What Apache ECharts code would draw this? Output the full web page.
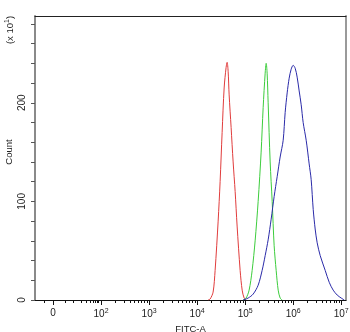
<!DOCTYPE html>
<html>
<head>
<meta charset="utf-8">
<script src="https://cdn.jsdelivr.net/npm/echarts@6/dist/echarts.min.js"></script>
<style>
  html, body { margin: 0; padding: 0; background: #fff; }
  #chart { width: 350px; height: 332px; }
</style>
</head>
<body>
<div id="chart"></div>
<script>
// x values are positions on the biexponential FITC-A axis, in decades (10^n sits at n, 0 sits at 1)
var redX = [4.229, 4.271, 4.333, 4.375, 4.438, 4.479, 4.521, 4.563, 4.604, 4.625, 4.646, 4.667, 4.708, 4.75, 4.792, 4.833, 4.896, 4.938, 4.979, 5.02];
var redY = [0, 1, 8, 30, 80, 120, 170, 215, 236, 241, 232, 208, 175, 140, 110, 75, 30, 10, 2, 0];

var greenX = [4.958, 5.02, 5.083, 5.146, 5.208, 5.271, 5.333, 5.375, 5.417, 5.438, 5.458, 5.479, 5.521, 5.563, 5.604, 5.646, 5.688, 5.729, 5.771];
var greenY = [0, 2, 10, 30, 60, 100, 150, 195, 230, 240, 230, 200, 140, 100, 55, 30, 10, 2, 0];

var blueX = [4.958, 5.063, 5.167, 5.271, 5.354, 5.417, 5.479, 5.542, 5.604, 5.667, 5.729, 5.792, 5.833, 5.875, 5.917, 5.958, 6.0, 6.042, 6.083, 6.125, 6.167, 6.208, 6.271, 6.333, 6.375, 6.417, 6.458, 6.5, 6.563, 6.667, 6.75, 6.833, 6.917, 7.0, 7.063];
var blueY = [0, 2, 6, 15, 30, 45, 61, 82, 105, 125, 145, 162, 190, 210, 225, 234, 238, 235, 226, 212, 198, 180, 162, 138, 122, 92, 72, 58, 45, 30, 18, 10, 5, 2, 0];

var xLabelValues = [1, 2, 3, 4, 5, 6, 7];
var xMinorTicks = [0.8125, 1.25, 1.417, 1.583, 1.688, 1.771, 1.833, 1.875, 1.917, 1.948];
var yTickValues = [0, 20, 40, 60, 80, 100, 120, 140, 160, 180, 200, 220, 240, 260, 280];
var yLabelValues = [0, 100, 200];

for (var n = 2; n < 7; n++) {
  for (var k = 2; k <= 9; k++) xMinorTicks.push(n + Math.log10(k));
}

function pairs(xs, ys) {
  return xs.map(function (x, i) { return [x, ys[i]]; });
}

var font = 'Liberation Sans, Arial, sans-serif';
var textColor = '#222';
var sup = { fontSize: 7, fontFamily: font, color: textColor, verticalAlign: 'bottom', padding: [0, 0, 6, 0] };

var chart = echarts.init(document.getElementById('chart'));
var option = {
  animation: false,
  grid: { left: 35, right: 4, top: 16, bottom: 32, containLabel: false, outerBoundsMode: 'none' },
  xAxis: [{
    type: 'value', min: 0.625, max: 7.1,
    splitLine: { show: false },
    axisLine: { lineStyle: { color: '#111', width: 1 } },
    axisTick: { customValues: xLabelValues, length: 5, lineStyle: { color: '#111' } },
    axisLabel: {
      customValues: xLabelValues, margin: 8,
      fontFamily: font, fontSize: 10, color: textColor,
      formatter: function (v) { return v === 1 ? '0' : '10{sup|' + v + '}'; },
      rich: { sup: sup }
    },
    name: 'FITC-A', nameLocation: 'middle', nameGap: 21,
    nameTextStyle: { fontFamily: font, fontSize: 9.5, color: textColor }
  }, {
    type: 'value', min: 0.625, max: 7.1, position: 'bottom',
    splitLine: { show: false },
    axisLine: { show: false },
    axisLabel: { show: false },
    axisTick: { customValues: xMinorTicks, length: 3, lineStyle: { color: '#111' } }
  }, {
    type: 'value', min: 0.625, max: 7.1, position: 'top',
    splitLine: { show: false },
    axisLine: { lineStyle: { color: '#222', width: 1 } },
    axisTick: { show: false }, axisLabel: { show: false }
  }],
  yAxis: [{
    type: 'value', min: 0, max: 288,
    splitLine: { show: false },
    axisLine: { lineStyle: { color: '#8a8a8a', width: 2 } },
    axisTick: { customValues: yTickValues, length: 4, lineStyle: { color: '#555' } },
    axisLabel: {
      customValues: yLabelValues, rotate: 90, margin: 8,
      fontFamily: font, fontSize: 10, color: textColor
    }
  }, {
    type: 'value', min: 0, max: 288, position: 'right',
    splitLine: { show: false },
    axisLine: { lineStyle: { color: '#9a9a9a', width: 2 } },
    axisTick: { show: false }, axisLabel: { show: false }
  }],
  graphic: [{
    type: 'text', x: 4, y: 30, rotation: Math.PI / 2,
    style: {
      text: '(x 10{s|1})', fontFamily: font, fontSize: 9.5, fill: textColor,
      align: 'center', verticalAlign: 'top',
      rich: { s: { fontSize: 7, fontFamily: font, fill: textColor, verticalAlign: 'bottom', padding: [0, 0, 5, 0] } }
    }
  }, {
    type: 'text', x: 4, y: 152, rotation: Math.PI / 2,
    style: { text: 'Count', fontFamily: font, fontSize: 9.5, fill: textColor, align: 'center', verticalAlign: 'top' }
  }],
  series: [
    { type: 'line', data: pairs(redX, redY), showSymbol: false, smooth: 0.3, lineStyle: { color: '#e03c3c', width: 1 } },
    { type: 'line', data: pairs(greenX, greenY), showSymbol: false, smooth: 0.3, lineStyle: { color: '#3ccc3c', width: 1 } },
    { type: 'line', data: pairs(blueX, blueY), showSymbol: false, smooth: 0.3, lineStyle: { color: '#2a2aa8', width: 1 } }
  ]
};
chart.setOption(option);
</script>
</body>
</html>
